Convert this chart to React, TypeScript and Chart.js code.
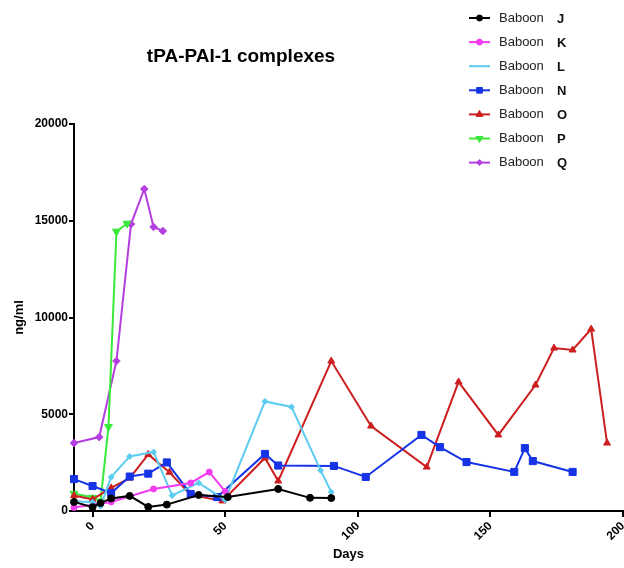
import React, { useEffect, useRef } from "react";
import { Chart, registerables } from "chart.js";
import { drawPoint } from "chart.js/helpers";

Chart.register(...registerables);

const FONT = "'Liberation Sans', Arial, Helvetica, sans-serif";

const TITLE = "tPA-PAI-1 complexes";
const X_TITLE = "Days";
const Y_TITLE = "ng/ml";
const X_TICKS = [0, 50, 100, 150, 200];
const Y_TICKS = [0, 5000, 10000, 15000, 20000];
const X_MIN = -7;
const X_MAX = 200;

const SERIES_NAMES = ["Baboon J", "Baboon K", "Baboon L", "Baboon N", "Baboon O", "Baboon P", "Baboon Q"];

const daysJ = [-7, 0, 3, 7, 14, 21, 28, 40, 51, 70, 82, 90];
const valsJ = [470, 200, 410, 650, 780, 210, 330, 830, 720, 1140, 680, 670];

const daysK = [-7, 7, 23, 37, 44, 50];
const valsK = [180, 470, 1140, 1450, 2010, 1010];

const daysL = [-7, 0, 3, 7, 14, 23, 30, 40, 50, 65, 75, 86, 90];
const valsL = [500, 450, 250, 1750, 2820, 3050, 800, 1450, 570, 5660, 5380, 2100, 980];

const daysN = [-7, 0, 7, 14, 21, 28, 37, 47, 65, 70, 91, 103, 124, 131, 141, 159, 163, 166, 181];
const valsN = [1650, 1290, 930, 1780, 1930, 2510, 880, 720, 2950, 2350, 2330, 1760, 3930, 3300, 2530, 2020, 3250, 2580, 2020];

const daysO = [-7, 0, 7, 14, 21, 29, 37, 49, 65, 70, 90, 105, 126, 138, 153, 167, 174, 181, 188, 194];
const valsO = [800, 600, 1190, 1700, 2920, 2000, 830, 520, 2740, 1550, 7750, 4390, 2270, 6670, 3930, 6510, 8420, 8320, 9400, 3510];

const daysP = [-7, 0, 3, 6, 9, 13];
const valsP = [900, 700, 500, 4350, 14450, 14860];

const daysQ = [-7, 2.5, 9, 14.5, 19.5, 23, 26.5];
const valsQ = [3510, 3820, 7750, 14830, 16640, 14680, 14470];

const COLORS = ["#000000", "#f23cf0", "#5ccbf0", "#1634e6", "#cc1f1f", "#3ae83a", "#b43ee0"];
const STYLES = ["circle", "circle", "rectRot", "rect", "triangle", "triangle", "rectRot"];
const ROTATIONS = [0, 0, 0, 0, 0, 180, 0];
const RADII = [3.5, 3, 3, 5, 4, 4.5, 3.8];
const LEGEND_RADII = [3, 3, 0, 4, 4, 4, 3];

const ALL_DAYS = [daysJ, daysK, daysL, daysN, daysO, daysP, daysQ];
const ALL_VALS = [valsJ, valsK, valsL, valsN, valsO, valsP, valsQ];

const titlePlugin = {
  id: "customTitle",
  afterDraw(chart: any) {
    const ctx = chart.ctx;
    ctx.save();
    ctx.fillStyle = "#000";
    ctx.font = `bold 19px ${FONT}`;
    ctx.textAlign = "center";
    ctx.textBaseline = "middle";
    ctx.fillText(TITLE, 241, 57);
    ctx.restore();
  },
};

const legendPlugin = {
  id: "customLegend",
  afterDraw(chart: any) {
    const ctx = chart.ctx;
    ctx.save();
    chart.data.datasets.forEach((ds: any, i: number) => {
      const y = 18 + i * 24.1;
      const x0 = 469;
      const x1 = 490;
      ctx.strokeStyle = ds.borderColor;
      ctx.fillStyle = ds.borderColor;
      ctx.lineWidth = 2;
      ctx.beginPath();
      ctx.moveTo(x0, y);
      ctx.lineTo(x1, y);
      ctx.stroke();
      if (LEGEND_RADII[i] > 0) {
        ctx.lineWidth = 1;
        drawPoint(ctx, { pointStyle: ds.pointStyle, rotation: ds.pointRotation || 0, radius: LEGEND_RADII[i], borderWidth: 1 }, (x0 + x1) / 2, y);
      }
      const parts = String(ds.label).split(" ");
      ctx.fillStyle = "#222";
      ctx.textBaseline = "middle";
      ctx.textAlign = "left";
      ctx.font = `13px ${FONT}`;
      ctx.fillText(parts[0], 499, y);
      ctx.fillStyle = "#111";
      ctx.font = `bold 13px ${FONT}`;
      ctx.fillText(parts[1], 557, y + 1);
    });
    ctx.restore();
  },
};

export default function App() {
  const canvasRef = useRef<HTMLCanvasElement | null>(null);

  useEffect(() => {
    if (!canvasRef.current) return;
    const datasets = SERIES_NAMES.map((name, i) => ({
      label: name,
      data: ALL_DAYS[i].map((d, j) => ({ x: d, y: ALL_VALS[i][j] })),
      borderColor: COLORS[i],
      backgroundColor: COLORS[i],
      pointBackgroundColor: COLORS[i],
      pointBorderColor: COLORS[i],
      pointStyle: STYLES[i],
      pointRotation: ROTATIONS[i],
      pointRadius: RADII[i],
      pointBorderWidth: 1,
      borderWidth: 2,
      tension: 0,
      fill: false,
      clip: false,
    }));

    const chart = new Chart(canvasRef.current, {
      type: "line",
      data: { datasets },
      plugins: [titlePlugin, legendPlugin],
      options: {
        animation: false,
        responsive: false,
        devicePixelRatio: 1,
        layout: { autoPadding: false, padding: { top: 124, right: 1, left: 0, bottom: 0 } },
        plugins: {
          legend: { display: false },
          title: { display: false },
          tooltip: { enabled: false },
        },
        scales: {
          x: {
            type: "linear",
            min: X_MIN,
            max: X_MAX,
            afterBuildTicks: (scale: any) => {
              scale.ticks = X_TICKS.map((v) => ({ value: v }));
            },
            afterFit: (scale: any) => {
              scale.height = 57;
              scale.paddingLeft = 0;
              scale.paddingRight = 0;
            },
            grid: { display: true, drawOnChartArea: false, drawTicks: true, tickLength: 6, color: "#000", lineWidth: 2 },
            border: { display: true, color: "#000", width: 2 },
            ticks: {
              color: "#000",
              font: { family: FONT, size: 12, weight: "bold" },
              minRotation: 45,
              maxRotation: 45,
              padding: 2,
              callback: (v: any) => String(v),
            },
            title: {
              display: true,
              text: X_TITLE,
              color: "#000",
              font: { family: FONT, size: 13, weight: "bold" },
              padding: { top: 0, bottom: 6 },
            },
          },
          y: {
            type: "linear",
            min: 0,
            max: 20000,
            afterBuildTicks: (scale: any) => {
              scale.ticks = Y_TICKS.map((v) => ({ value: v }));
            },
            afterFit: (scale: any) => {
              scale.width = 74;
            },
            grid: { display: true, drawOnChartArea: false, drawTicks: true, tickLength: 5, color: "#000", lineWidth: 2 },
            border: { display: true, color: "#000", width: 2 },
            ticks: {
              color: "#000",
              font: { family: FONT, size: 12, weight: "bold" },
              padding: 1,
              callback: (v: any) => String(v),
            },
            title: {
              display: true,
              text: Y_TITLE,
              color: "#000",
              font: { family: FONT, size: 13, weight: "bold" },
              padding: { top: 12, bottom: 0 },
            },
          },
        },
      } as any,
    });
    return () => chart.destroy();
  }, []);

  return (
    <div style={{ position: "fixed", left: 0, top: 0, width: 624, height: 568, background: "#fff" }}>
      <canvas ref={canvasRef} width={624} height={568} style={{ display: "block" }} />
    </div>
  );
}
